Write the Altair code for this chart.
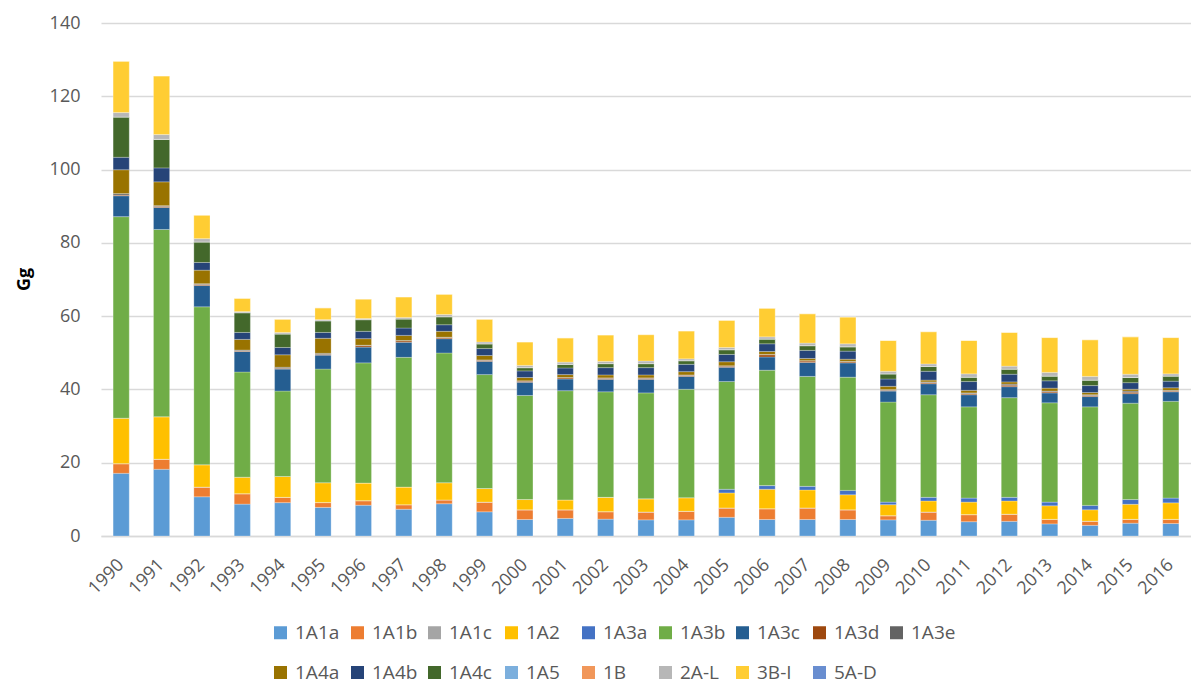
import altair as alt
import pandas as pd

years = [str(y) for y in range(1990, 2017)]

categories = ["1A1a", "1A1b", "1A1c", "1A2", "1A3a", "1A3b", "1A3c", "1A3d", "1A3e",
              "1A4a", "1A4b", "1A4c", "1A5", "1B", "2A-L", "3B-I", "5A-D"]
colors = ["#5B9BD5", "#ED7D31", "#A5A5A5", "#FFC000", "#4472C4", "#70AD47", "#255E91", "#9E480E", "#636363",
          "#997300", "#264478", "#43682B", "#7CAFDD", "#F1975A", "#B7B7B7", "#FFCD33", "#698ED0"]

v_1A1a = [17.1, 18.2, 10.7, 8.7, 9.1, 7.8, 8.4, 7.3, 8.8, 6.6, 4.5, 4.8, 4.6, 4.4, 4.4, 5.1, 4.5, 4.5, 4.5, 4.4, 4.3, 3.9, 4.0, 3.3, 2.9, 3.5, 3.4]
v_1A1b = [2.6, 2.7, 2.6, 2.8, 1.4, 1.3, 1.2, 1.2, 1.0, 2.6, 2.6, 2.3, 2.0, 2.1, 2.3, 2.5, 2.9, 3.1, 2.6, 1.1, 2.2, 1.9, 1.9, 1.2, 1.1, 1.0, 1.1]
v_1A1c = [0.05] * 27
v_1A2 = [12.4, 11.6, 6.1, 4.5, 5.7, 5.4, 4.8, 4.8, 4.7, 3.7, 2.8, 2.7, 3.9, 3.6, 3.7, 4.1, 5.3, 4.9, 4.1, 3.0, 3.0, 3.4, 3.6, 3.7, 3.1, 4.1, 4.5]
v_1A3a = [0.0, 0.0, 0.0, 0.0, 0.0, 0.0, 0.0, 0.0, 0.0, 0.0, 0.0, 0.0, 0.0, 0.0, 0.0, 1.0, 1.0, 1.0, 1.2, 0.7, 1.0, 1.1, 1.0, 1.0, 1.2, 1.3, 1.3]
v_1A3b = [55.0, 51.1, 43.1, 28.7, 23.3, 31.0, 32.8, 35.4, 35.4, 31.1, 28.4, 29.8, 28.8, 28.9, 29.6, 29.4, 31.5, 30.0, 30.9, 27.3, 28.0, 24.9, 27.2, 27.1, 26.9, 26.3, 26.4]
v_1A3c = [5.7, 6.0, 5.8, 5.6, 6.0, 3.8, 4.3, 4.1, 3.9, 3.6, 3.6, 3.2, 3.4, 3.7, 3.5, 3.9, 3.6, 3.8, 3.9, 3.0, 3.0, 3.3, 3.0, 2.7, 2.8, 2.6, 2.6]
v_1A3d = [0.2, 0.3, 0.3, 0.2, 0.2, 0.2, 0.4, 0.4, 0.3, 0.3, 0.3, 0.3, 0.3, 0.3, 0.3, 0.3, 0.6, 0.4, 0.3, 0.2, 0.3, 0.3, 0.4, 0.3, 0.3, 0.4, 0.2]
v_1A3e = [0.4, 0.2, 0.2, 0.2, 0.3, 0.3, 0.1, 0.1, 0.1, 0.1, 0.1, 0.1, 0.1, 0.1, 0.1, 0.1, 0.1, 0.1, 0.1, 0.2, 0.2, 0.2, 0.3, 0.2, 0.2, 0.3, 0.2]
v_1A4a = [6.5, 6.5, 3.7, 2.9, 3.4, 4.1, 1.8, 1.4, 1.6, 1.2, 0.9, 0.8, 0.8, 0.8, 0.9, 1.1, 0.8, 0.6, 0.6, 0.9, 0.5, 0.7, 0.6, 0.8, 0.6, 0.5, 0.7]
v_1A4b = [3.4, 3.8, 2.1, 1.9, 2.0, 1.6, 2.0, 2.0, 1.8, 1.9, 1.8, 1.8, 2.0, 2.0, 2.0, 2.0, 2.1, 2.2, 2.2, 2.0, 2.4, 2.4, 2.1, 2.0, 1.9, 1.8, 1.8]
v_1A4c = [11.0, 7.8, 5.6, 5.4, 3.7, 3.2, 3.2, 2.5, 2.2, 1.3, 0.9, 1.0, 1.1, 1.1, 1.0, 1.3, 1.3, 1.3, 1.2, 1.4, 1.3, 1.2, 1.4, 1.3, 1.5, 1.4, 1.4]
v_1A5 = [0.0] * 27
v_1B = [0.0] * 27
v_2AL = [1.2, 1.3, 0.9, 0.3, 0.4, 0.3, 0.3, 0.4, 0.6, 0.5, 0.6, 0.6, 0.6, 0.7, 0.5, 0.6, 0.6, 0.7, 0.8, 0.7, 0.7, 0.9, 0.8, 1.0, 1.0, 0.9, 0.6]
v_3BI = [14.0, 16.0, 6.4, 3.6, 3.6, 3.2, 5.3, 5.6, 5.5, 6.2, 6.4, 6.6, 7.2, 7.2, 7.6, 7.4, 7.8, 8.0, 7.3, 8.4, 8.8, 9.1, 9.2, 9.5, 10.0, 10.2, 9.9]
v_5AD = [0.0] * 27

series = [v_1A1a, v_1A1b, v_1A1c, v_1A2, v_1A3a, v_1A3b, v_1A3c, v_1A3d, v_1A3e,
          v_1A4a, v_1A4b, v_1A4c, v_1A5, v_1B, v_2AL, v_3BI, v_5AD]

rows = []
for ci, (cat, vals) in enumerate(zip(categories, series)):
    for yr, v in zip(years, vals):
        rows.append({"year": yr, "cat": cat, "ord": ci, "value": v})
df = pd.DataFrame(rows)

FONT = "Open Sans"
TXT = "#595959"

chart = alt.Chart(df).mark_bar(stroke="white", strokeWidth=0.5, strokeOpacity=0.5).encode(
    x=alt.X("year:N", sort=years, title=None,
            scale=alt.Scale(paddingInner=0.6, paddingOuter=0.3),
            axis=alt.Axis(labelAngle=315, labelAlign="right", labelBaseline="middle",
                          ticks=False, domainColor="#D9D9D9", domainWidth=1.5,
                          labelFontSize=18, labelColor=TXT, labelFont=FONT, labelPadding=26)),
    y=alt.Y("value:Q", stack="zero", title="Gg",
            scale=alt.Scale(domain=[0, 140]),
            axis=alt.Axis(values=[0, 20, 40, 60, 80, 100, 120, 140], domain=False, ticks=False,
                          tickSize=0, labelPadding=21, labelFontSize=18, labelColor=TXT,
                          labelFont=FONT, gridColor="#D9D9D9", gridWidth=1.4,
                          titleFont=FONT, titleFontSize=18, titleFontWeight="bold",
                          titleColor="#000000", titleX=-77, titleY=256, titleAngle=270,
                          titleAlign="center", titleBaseline="middle")),
    color=alt.Color("cat:N", scale=alt.Scale(domain=categories, range=colors),
                    legend=alt.Legend(title=None, orient="none", legendX=170, legendY=600,
                                      direction="horizontal",
                                      columns=9, gridAlign="all", symbolType="square",
                                      symbolSize=169, symbolStrokeWidth=0,
                                      labelFontSize=19, labelColor=TXT, labelFont=FONT,
                                      columnPadding=7, rowPadding=20, labelOffset=5)),
    order=alt.Order("ord:Q", sort="ascending"),
).properties(
    width=1090, height=513,
    padding={"left": 93, "top": 15, "right": 0, "bottom": 150},
    autosize=alt.AutoSizeParams(type="none"),
).configure_view(stroke=None)

chart.save("out.html", embed_options={"renderer": "svg", "actions": False})
